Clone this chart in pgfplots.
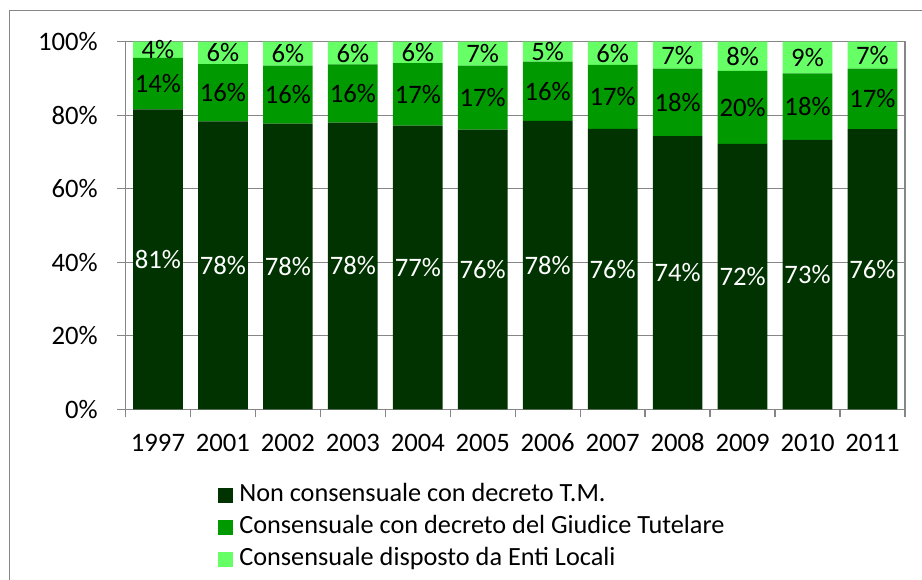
\documentclass[border=0pt]{standalone}
\usepackage{pgfplots}
\pgfplotsset{compat=1.18}
\usepackage{fontspec}
\setmainfont{Carlito}
\definecolor{cdark}{HTML}{003300}
\definecolor{cmid}{HTML}{009900}
\definecolor{clight}{HTML}{66FF66}
\definecolor{cgrid}{HTML}{868686}

\begin{document}
\fontsize{20}{24}\selectfont
\begin{tikzpicture}
\useasboundingbox (0,0) rectangle (691.5pt,435pt);
\draw[cgrid, line width=0.75pt] (6.75pt,0pt) -- (6.75pt,426.75pt) -- (691.5pt,426.75pt);
\begin{axis}[
    at={(94.125pt,128pt)}, anchor=south west,
    scale only axis, width=584.6pt, height=275.7pt,
    ybar stacked, bar width=0.765,
    xmin=-0.5, xmax=11.5, ymin=0, ymax=100,
    xtick={0,...,11},
    xticklabels={1997,2001,2002,2003,2004,2005,2006,2007,2008,2009,2010,2011},
    minor xtick={-0.5,0.5,...,11.5},
    ytick={0,20,...,100},
    yticklabels={0\%,20\%,40\%,60\%,80\%,100\%},
    xticklabel style={yshift=-6pt, text height=13pt, text depth=0pt},
    yticklabel style={xshift=-8pt},
    tick align=outside, tick pos=left,
    major tick length=6pt, minor tick length=6pt,
    every major x tick/.append style={draw=none},
    tick style={cgrid, line width=1pt},
    axis line style={cgrid, line width=1pt},
    ymajorgrids, grid style={cgrid, line width=1pt},
    point meta=explicit symbolic,
    nodes near coords={\pgfplotspointmeta\%},
    nodes near coords align=center,
    every node near coord/.append style={inner sep=0pt},
    legend style={draw=none, fill=none, at={(0.1187,-0.198)}, anchor=north west,
        inner sep=0pt, row sep=5pt, font=\fontsize{19.7}{23}\selectfont,
        nodes={inner sep=0pt, text height=14pt, text depth=5pt, anchor=west}},
    legend cell align=left,
    legend image code/.code={\fill[#1] (0pt,-5.6pt) rectangle (11.25pt,5.6pt); \path (15.75pt,0pt);},
]
\addplot[fill=cdark, draw=none, every node near coord/.append style={text=white}] coordinates {
    (0,81.6)[81] (1,78.3)[78] (2,77.7)[78] (3,78.0)[78] (4,77.2)[77] (5,76.1)[76]
    (6,78.5)[78] (7,76.3)[76] (8,74.35)[74] (9,72.2)[72] (10,73.3)[73] (11,76.2)[76]};
\addplot[fill=cmid, draw=none, every node near coord/.append style={text=black}] coordinates {
    (0,14.0)[14] (1,15.6)[16] (2,15.8)[16] (3,15.85)[16] (4,17.0)[17] (5,17.4)[17]
    (6,16.1)[16] (7,17.4)[17] (8,18.3)[18] (9,19.9)[20] (10,18.1)[18] (11,16.45)[17]};
\addplot[fill=clight, draw=none, every node near coord/.append style={text=black}] coordinates {
    (0,4.4)[4] (1,6.1)[6] (2,6.5)[6] (3,6.15)[6] (4,5.8)[6] (5,6.5)[7]
    (6,5.4)[5] (7,6.3)[6] (8,7.35)[7] (9,7.9)[8] (10,8.6)[9] (11,7.35)[7]};
\legend{Non consensuale con decreto T.M., Consensuale con decreto del Giudice Tutelare, Consensuale disposto da Enti Locali}
\end{axis}
\end{tikzpicture}
\end{document}
